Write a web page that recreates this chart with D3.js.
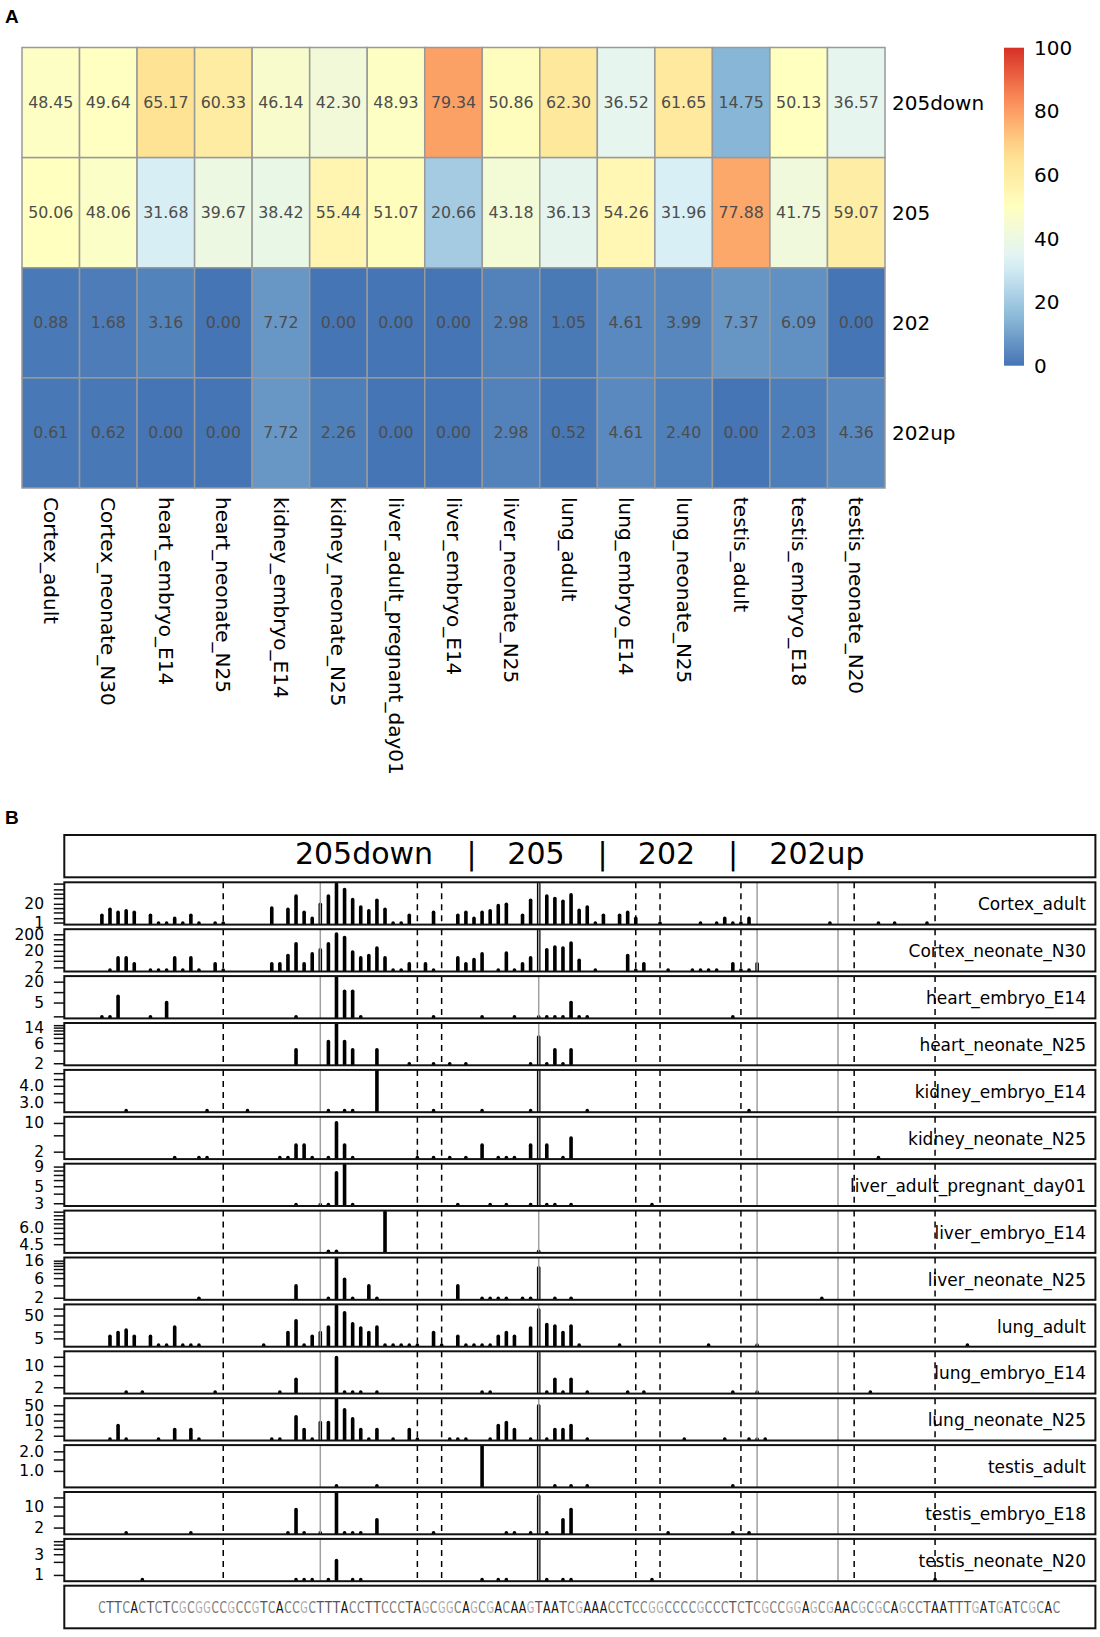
<!DOCTYPE html>
<html>
<head>
<meta charset="utf-8">
<script src="https://cdn.jsdelivr.net/npm/d3@7"></script>
<style>
  body { margin: 0; background: #fff; }
  text { font-family: "DejaVu Sans", sans-serif; }
</style>
</head>
<body>
<div id="chart"></div>
<script>
// ---------- Panel A data ----------
const tissues = ["Cortex_adult", "Cortex_neonate_N30", "heart_embryo_E14", "heart_neonate_N25",
  "kidney_embryo_E14", "kidney_neonate_N25", "liver_adult_pregnant_day01", "liver_embryo_E14",
  "liver_neonate_N25", "lung_adult", "lung_embryo_E14", "lung_neonate_N25", "testis_adult",
  "testis_embryo_E18", "testis_neonate_N20"];
const heatRows = ["205down", "205", "202", "202up"];
const pct205down = [48.45, 49.64, 65.17, 60.33, 46.14, 42.30, 48.93, 79.34, 50.86, 62.30, 36.52, 61.65, 14.75, 50.13, 36.57];
const pct205 = [50.06, 48.06, 31.68, 39.67, 38.42, 55.44, 51.07, 20.66, 43.18, 36.13, 54.26, 31.96, 77.88, 41.75, 59.07];
const pct202 = [0.88, 1.68, 3.16, 0.00, 7.72, 0.00, 0.00, 0.00, 2.98, 1.05, 4.61, 3.99, 7.37, 6.09, 0.00];
const pct202up = [0.61, 0.62, 0.00, 0.00, 7.72, 2.26, 0.00, 0.00, 2.98, 0.52, 4.61, 2.40, 0.00, 2.03, 4.36];
const colorbarTicks = [0, 20, 40, 60, 80, 100];

// ---------- Panel B data ([position, normalised reads]) ----------
const headerParts = ["205down", "|", "205", "|", "202", "|", "202up"];
const sequence = "CTTCACTCTCGCGGCCGCCGTCACCGCTTTACCTTCCCTAGCGGCAGCGACAAGTAATCGAAACCTCCGGCCCCGCCCTCTCGCCGGAGCGAACGCGCAGCCTAATTTGATGATCGCAC";
const dashedPos = [16, 40, 43, 67, 70, 80, 94, 104];
const grayPos = [28, 55, 82, 92];

const cortexAdult = [[1,3.5],[2,8.9],[3,5.6],[4,7.1],[5,5.6],[7,3.5],[8,1],[9,1],[10,2.1],[11,1],[12,3.5],[13,1],[15,1],[16,1],
  [22,11],[24,8.9],[25,75],[26,5.6],[27,2.1],[28,20],[29,75],[30,500],[31,211],[32,42],[33,13],[34,7.1],[35,38],[36,8.9],[37,1],[38,1],[39,3.5],
  [42,5.6],[45,3.5],[46,5.6],[47,2.1],[48,5.6],[49,7.1],[50,16],[51,20],[53,3.5],[54,38],[55,520],[56,75],[57,50],[58,32],[59,89],[60,7.5],
  [61,13],[62,1],[63,3.5],[65,3.5],[66,5.6],[67,2.1],[70,1],[75,1],[77,1],[78,2.1],[79,1],[80,1],[81,2.1],[91,1],[97,1],[99,1],[103,1]];
const cortexNeonate = [[2,1.5],[3,8],[4,8],[5,3.5],[7,1.5],[8,1.5],[9,1.5],[10,8],[11,1.5],[12,8],[13,1.5],[15,3.5],[16,1.5],
  [22,3.5],[23,3.5],[24,11],[25,58],[26,3.5],[27,14],[28,25],[29,58],[30,220],[31,138],[32,18],[33,8],[34,11],[35,32],[36,8],[37,1.5],[38,1.5],
  [39,3.5],[41,3.5],[42,1.5],[45,8],[46,3.5],[47,6.3],[48,14],[50,1.5],[51,16],[52,1.5],[53,3.5],[54,8],[55,350],[56,25],[57,36],[58,32],
  [59,63],[60,5.8],[62,1.5],[66,11],[67,1.5],[68,3.5],[71,1.5],[74,1.5],[75,1.5],[76,1.5],[77,1.5],[79,3.5],[80,1.5],[81,1.5],[82,3.5]];
const heartEmbryo = [[1,2],[2,2],[3,7.8],[7,2],[9,5.2],[25,2],[30,27],[31,10.9],[32,10.9],[33,2],[42,2],[48,2],[52,2],[55,2],[56,2],
  [57,2],[58,2],[59,5.2],[60,2],[61,2],[79,2]];
const heartNeonate = [[25,4.3],[29,6.7],[30,17],[31,6.7],[32,4.3],[35,4.3],[39,2],[42,2],[44,2],[46,2],[54,2],[55,8.6],[56,2],[57,4.3],
  [58,2],[59,4.3]];
const kidneyEmbryo = [[4,2.6],[14,2.6],[19,2.6],[29,2.6],[31,2.6],[32,2.6],[35,5.2],[42,2.6],[48,2.6],[54,2.6],[55,5.2],[61,2.6],[81,2.6]];
const kidneyNeonate = [[10,1.48],[13,1.48],[14,1.48],[23,1.48],[24,1.48],[25,2.96],[26,2.96],[27,1.48],[29,1.48],[30,10.4],[31,2.96],
  [32,1.48],[40,1.48],[42,1.48],[44,1.48],[46,1.48],[48,2.96],[50,1.48],[51,1.48],[52,1.48],[54,2.96],[55,13.3],[56,2.96],[58,1.48],
  [59,4.44],[97,1.48]];
const liverAdult = [[25,2.94],[28,2.94],[29,2.94],[30,7.6],[31,9.5],[32,2.94],[45,2.94],[49,2.94],[51,2.94],[54,2.94],[55,9.5],[56,2.94],
  [57,2.94],[59,2.94],[69,2.94]];
const liverEmbryo = [[29,4],[30,4],[36,8],[55,4]];
const liverNeonate = [[13,2],[25,4],[29,2],[30,18],[31,5.8],[32,2],[34,4],[35,2],[45,4],[48,2],[49,2],[50,2],[51,2],[53,2],[54,2],[55,11],
  [57,2],[59,2],[90,2]];
const lungAdult = [[2,6.5],[3,9.4],[4,12],[5,6.5],[7,6.5],[8,2.66],[9,2.66],[10,16.6],[11,2.66],[12,2.66],[13,2.66],[21,2.66],[24,9.4],
  [25,31],[26,2.66],[27,6.5],[28,9.4],[29,16.6],[30,137],[31,69],[32,23],[33,15],[34,9.4],[35,16.6],[36,2.66],[37,2.66],[38,2.66],[39,2.66],
  [40,2.66],[42,9.4],[43,2.66],[45,6.5],[46,2.66],[47,2.66],[48,2.66],[49,2.66],[50,6.5],[51,9.4],[52,6.5],[54,15],[55,94],[56,21],[57,18],
  [58,9.4],[59,18],[60,2.66],[65,2.66],[76,2.66],[82,2.66],[108,2.66]];
const lungEmbryo = [[4,1.45],[6,1.45],[15,1.45],[23,1.45],[25,3.8],[30,19.6],[31,1.45],[32,1.45],[33,1.45],[35,1.45],[48,1.45],[49,1.45],
  [55,28],[56,1.45],[57,3.8],[58,1.45],[59,3.8],[61,1.45],[66,1.45],[68,1.45],[79,1.45],[82,1.45],[96,1.45]];
const lungNeonate = [[2,1.5],[3,6.2],[4,1.5],[8,1.5],[10,4.1],[12,4.1],[13,1.5],[22,1.5],[23,1.5],[25,15.7],[26,4.1],[27,1.5],[28,8.5],
  [29,8.5],[30,95],[31,33],[32,12.5],[33,4.1],[34,1.5],[35,4.1],[37,1.5],[39,4.1],[40,1.5],[44,1.5],[45,1.5],[46,1.5],[49,1.5],[50,6.2],
  [51,8.5],[52,4.1],[54,1.5],[55,50],[56,1.5],[57,4.1],[58,4.1],[59,6.2],[61,1.5],[73,1.5],[78,1.5],[81,1.5],[82,1.5],[83,1.5]];
const testisAdult = [[30,0.6],[35,0.6],[48,2.4],[55,2.4],[57,0.6],[59,0.6],[61,0.6],[79,0.6]];
const testisEmbryo = [[4,1.4],[12,1.4],[24,1.4],[25,8.3],[26,1.4],[28,1.4],[30,28],[31,1.4],[32,1.4],[33,1.4],[35,3.8],[42,1.4],[51,1.4],
  [52,1.4],[54,1.4],[55,23],[56,1.4],[58,3.8],[59,8.3],[71,1.4],[79,1.4],[81,1.4]];
const testisNeonate = [[6,0.8],[25,0.8],[26,0.8],[27,0.8],[29,0.8],[30,2.2],[32,0.8],[33,0.8],[48,0.8],[50,0.8],[51,0.8],[55,6.4],[56,0.8],
  [58,0.8],[59,0.8],[69,0.8],[104,0.8]];

const trackCounts = [cortexAdult, cortexNeonate, heartEmbryo, heartNeonate, kidneyEmbryo, kidneyNeonate, liverAdult, liverEmbryo,
  liverNeonate, lungAdult, lungEmbryo, lungNeonate, testisAdult, testisEmbryo, testisNeonate];
const trackTicks = [[1,2,5,10,20,50,100,200,500], [2,5,10,20,50,100,200], [2,5,10,20], [2,4,6,8,10,12,14,16], [3,3.5,4,4.5,5],
  [2,5,10], [3,4,5,6,7,8,9], [4.5,5,5.5,6,6.5,7,7.5,8], [2,4,6,8,10,12,14,16], [5,10,20,50,100], [2,5,10,20], [2,5,10,20,50],
  [1,1.5,2], [2,5,10,20], [1,2,3,4,5,6]];
const trackTickLabels = [["20","1"], ["200","20","2"], ["20","5"], ["14","6","2"], ["4.0","3.0"], ["10","2"], ["9","5","3"],
  ["6.0","4.5"], ["16","6","2"], ["50","5"], ["10","2"], ["50","10","2"], ["2.0","1.0"], ["10","2"], ["3","1"]];

// ---------- drawing ----------
const svg = d3.select("#chart").append("svg")
  .attr("width", 1100).attr("height", 1637);

const palette = ["#4575B4", "#91BFDB", "#E0F3F8", "#FFFFBF", "#FEE090", "#FC8D59", "#D73027"];
const color = d3.scaleLinear()
  .domain(palette.map((c, i) => i * 100 / (palette.length - 1)))
  .range(palette);

// panel letters
svg.append("text").attr("x", 5).attr("y", 23)
  .style("font-family", "Liberation Sans").style("font-weight", "bold").style("font-size", "19px").text("A");
svg.append("text").attr("x", 5).attr("y", 824)
  .style("font-family", "Liberation Sans").style("font-weight", "bold").style("font-size", "19px").text("B");

// heatmap
const hx = d3.scaleBand().domain(tissues).range([22, 885]);
const hy = d3.scaleBand().domain(heatRows).range([47.5, 488]);
const heatValues = [pct205down, pct205, pct202, pct202up];

const cells = heatRows.flatMap((r, i) => tissues.map((t, j) => ({ row: r, tissue: t, v: heatValues[i][j] })));

svg.append("g").selectAll("rect")
  .data(cells).enter().append("rect")
  .attr("x", d => hx(d.tissue)).attr("y", d => hy(d.row))
  .attr("width", hx.bandwidth()).attr("height", hy.bandwidth())
  .attr("fill", d => color(d.v))
  .attr("stroke", "#999").attr("stroke-width", 1.5);

svg.append("g").selectAll("text")
  .data(cells).enter().append("text")
  .attr("x", d => hx(d.tissue) + hx.bandwidth() / 2)
  .attr("y", d => hy(d.row) + hy.bandwidth() / 2)
  .attr("text-anchor", "middle").attr("dominant-baseline", "central")
  .style("font-size", "15.8px").attr("fill", "#4d4d4d")
  .text(d => d.v.toFixed(2));

// row labels
svg.append("g").selectAll("text")
  .data(heatRows).enter().append("text")
  .attr("x", 892).attr("y", d => hy(d) + hy.bandwidth() / 2)
  .attr("dominant-baseline", "central").style("font-size", "20px")
  .text(d => d);

// column labels (rotated)
svg.append("g").selectAll("text")
  .data(tissues).enter().append("text")
  .attr("transform", d => `translate(${hx(d) + hx.bandwidth() / 2},497) rotate(90)`)
  .attr("dominant-baseline", "central").style("font-size", "20px")
  .text(d => d);

// colour bar
const grad = svg.append("defs").append("linearGradient")
  .attr("id", "cbar").attr("x1", 0).attr("y1", 1).attr("x2", 0).attr("y2", 0);
d3.range(0, 101, 5).forEach(v => {
  grad.append("stop").attr("offset", v / 100).attr("stop-color", color(v));
});
const cb = d3.scaleLinear().domain([0, 100]).range([365.7, 47.7]);
svg.append("rect").attr("x", 1004).attr("y", cb(100)).attr("width", 20)
  .attr("height", cb(0) - cb(100)).attr("fill", "url(#cbar)");
svg.append("g").selectAll("text")
  .data(colorbarTicks).enter().append("text")
  .attr("x", 1034).attr("y", d => cb(d))
  .attr("dominant-baseline", "central").style("font-size", "20px")
  .text(d => d);

// ---------- Panel B ----------
const left = 64.3, right = 1095.4;
const xPos = d3.scaleLinear().domain([1, sequence.length]).range([101.9, 1056.4]);

// header box
svg.append("rect").attr("x", left).attr("y", 835).attr("width", right - left).attr("height", 42.3)
  .attr("fill", "none").attr("stroke", "#111").attr("stroke-width", 2);
const headerX = [364, 471.5, 536, 602.5, 666.5, 733, 817];
svg.append("g").selectAll("text")
  .data(headerParts).enter().append("text")
  .attr("x", (d, i) => headerX[i]).attr("y", 864)
  .attr("text-anchor", "middle").style("font-size", "30px")
  .text(d => d);

const trackNames = tissues;
const trackY = d3.scaleBand().domain(trackNames).range([882.3, 1581.2]).paddingInner(0.098);
const defs = svg.select("defs");

trackNames.forEach((name, i) => {
  const top = trackY(name), h = trackY.bandwidth(), bottom = top + h;
  const data = trackCounts[i];
  const ext = d3.extent(data, d => d[1]);
  const lr = Math.log10(ext[1] / ext[0]) * 0.04;
  const y = d3.scaleLog()
    .domain([ext[0] / Math.pow(10, lr), ext[1] * Math.pow(10, lr)])
    .range([bottom, top]);

  const clipId = "clip" + i;
  defs.append("clipPath").attr("id", clipId).append("rect")
    .attr("x", left).attr("y", top).attr("width", right - left).attr("height", h);

  const g = svg.append("g");
  const inner = g.append("g").attr("clip-path", `url(#${clipId})`);

  inner.selectAll(".bar")
    .data(data).enter().append("line")
    .attr("class", "bar")
    .attr("x1", d => xPos(d[0])).attr("x2", d => xPos(d[0]))
    .attr("y1", bottom + 4).attr("y2", d => y(d[1]))
    .attr("stroke", "#000").attr("stroke-width", 3.6).attr("stroke-linecap", "round");

  inner.selectAll(".gray")
    .data(grayPos).enter().append("line")
    .attr("class", "gray")
    .attr("x1", d => xPos(d)).attr("x2", d => xPos(d))
    .attr("y1", top).attr("y2", bottom)
    .attr("stroke", "#a0a0a0").attr("stroke-width", 1.5);

  inner.selectAll(".dash")
    .data(dashedPos).enter().append("line")
    .attr("class", "dash")
    .attr("x1", d => xPos(d)).attr("x2", d => xPos(d))
    .attr("y1", top).attr("y2", bottom)
    .attr("stroke", "#000").attr("stroke-width", 1.5).attr("stroke-dasharray", "6,5");

  g.append("rect").attr("x", left).attr("y", top).attr("width", right - left).attr("height", h)
    .attr("fill", "none").attr("stroke", "#111").attr("stroke-width", 2);

  // y axis ticks + labels
  const ticks = trackTicks[i].filter(t => y(t) >= top - 0.5 && y(t) <= bottom + 0.5);
  g.selectAll(".tick")
    .data(ticks).enter().append("line")
    .attr("class", "tick")
    .attr("x1", left - 10.5).attr("x2", left)
    .attr("y1", d => y(d)).attr("y2", d => y(d))
    .attr("stroke", "#111").attr("stroke-width", 1.5);
  g.selectAll(".tlab")
    .data(trackTickLabels[i]).enter().append("text")
    .attr("class", "tlab")
    .attr("x", 44).attr("y", d => y(+d))
    .attr("text-anchor", "end").attr("dominant-baseline", "central")
    .style("font-size", "15.5px")
    .text(d => d);

  g.append("text")
    .attr("x", 1086).attr("y", top + h / 2 + 1)
    .attr("text-anchor", "end").attr("dominant-baseline", "central")
    .style("font-size", "17px")
    .text(name);
});

// sequence box
svg.append("rect").attr("x", left).attr("y", 1585.7).attr("width", right - left).attr("height", 42.6)
  .attr("fill", "none").attr("stroke", "#111").attr("stroke-width", 2);
const baseColor = { A: "#111", T: "#555", C: "#7a7a7a", G: "#ababab" };
svg.append("g").selectAll("text")
  .data(sequence.split("")).enter().append("text")
  .attr("x", (d, i) => xPos(i + 1)).attr("y", 1607)
  .attr("text-anchor", "middle").attr("dominant-baseline", "central")
  .attr("textLength", 7.5).attr("lengthAdjust", "spacingAndGlyphs")
  .style("font-size", "16px").attr("fill", d => baseColor[d])
  .text(d => d);
</script>
</body>
</html>
